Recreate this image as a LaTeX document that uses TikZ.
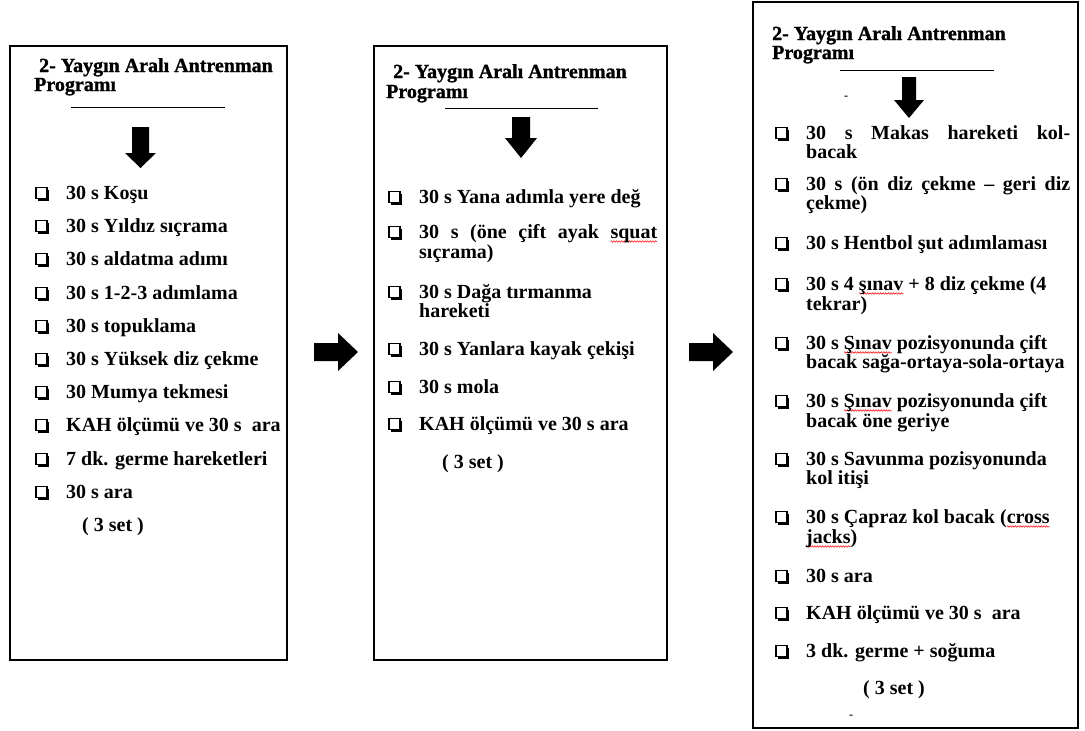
\documentclass[tikz,border=0pt]{standalone}
\usepackage{fontspec}
\setmainfont{Liberation Serif}
\newfontfamily\titlefont{Liberation Serif}[BoldFeatures={FakeBold=1.2}]
\usetikzlibrary{decorations.pathmorphing}
\newsavebox\wbox
\newcommand\redwave[1]{\sbox\wbox{#1}\rlap{\raisebox{-3.5pt}{\tikz[overlay]\draw[red,line width=0.5pt,decorate,decoration={snake,amplitude=0.8pt,segment length=2.6pt}] (0pt,0pt) -- (\wd\wbox,0pt);}}\usebox\wbox}
\newcommand\chk[2]{%
  \draw[line width=1.1pt] ({#1},{#2-11.5}) rectangle ({#1+11},{#2-0.5});
  \draw[line width=1.7pt, line join=miter] ({#1+2},{#2+0.8}) -- ({#1+12.2},{#2+0.8}) -- ({#1+12.2},{#2-9.5});}
\begin{document}
\begin{tikzpicture}[x=1pt,y=-1pt,
  panel/.style={draw=black, line width=1.6pt, fill=white, inner sep=0pt},
  txt/.style={anchor=base west, inner sep=0pt, font=\bfseries\fontsize{20}{22}\selectfont},
  ttl/.style={anchor=base west, inner sep=0pt, font=\titlefont\bfseries\fontsize{20}{22}\selectfont},
  dashmark/.style={inner sep=0pt, font=\bfseries\fontsize{12}{12}\selectfont},
  rule/.style={line width=0.8pt},
  blockarrow/.style={fill=black, draw=none}]
\useasboundingbox (0,0) rectangle (1085,731);
\fill[white] (0,0) rectangle (1085,731);

% panels
\node[panel, minimum width=277pt, minimum height=614pt] (b1) at (148.5,353) {};
\node[panel, minimum width=293pt, minimum height=614pt] (b2) at (520.5,353) {};
\node[panel, minimum width=325pt, minimum height=726pt] (b3) at (915.5,365) {};

% horizontal block arrows
\fill[blockarrow] (314,343) -- (338,343) -- (338,333) -- (358,352) -- (338,371) -- (338,361) -- (314,361) -- cycle;
\fill[blockarrow] (689,343) -- (713,343) -- (713,333) -- (733,352) -- (713,371) -- (713,361) -- (689,361) -- cycle;

% ---------- panel 1 ----------
\node[ttl] (p1t1) at (39,72) {2- Yaygın Aralı Antrenman};
\node[ttl] (p1t2) at (34,91) {Programı};
\draw[rule] (71,107) -- (225,107);
\fill[blockarrow] (132,127) -- (149,127) -- (149,153) -- (156,153) -- (140.5,168) -- (125,153) -- (132,153) -- cycle;
\foreach \yy in {199,232,265,299,332,365,398,431,465,498} {\chk{36}{\yy}}
\node[txt] (p1i1) at (66,199) {30 s Koşu};
\node[txt] (p1i2) at (66,232) {30 s Yıldız sıçrama};
\node[txt] (p1i3) at (66,265) {30 s aldatma adımı};
\node[txt] (p1i4) at (66,299) {30 s 1-2-3 adımlama};
\node[txt] (p1i5) at (66,332) {30 s topuklama};
\node[txt] (p1i6) at (66,365) {30 s Yüksek diz çekme};
\node[txt] (p1i7) at (66,398) {30 Mumya tekmesi};
\node[txt] (p1i8) at (66,431) {KAH ölçümü ve 30 s~ ara};
\node[txt] (p1i9) at (66,465) {7 dk. germe hareketleri};
\node[txt] (p1i10) at (66,498) {30 s ara};
\node[txt] (p1set) at (82,531) {( 3 set )};

% ---------- panel 2 ----------
\node[ttl] (p2t1) at (393,78) {2- Yaygın Aralı Antrenman};
\node[ttl] (p2t2) at (386,98) {Programı};
\draw[rule] (445,108) -- (598,108);
\fill[blockarrow] (512,117) -- (530,117) -- (530,138) -- (537,138) -- (521,158) -- (505,138) -- (512,138) -- cycle;
\foreach \yy in {203,238,298,355,393,430} {\chk{389}{\yy}}
\node[txt] (p2i1) at (419,203) {30 s Yana adımla yere değ};
\node[txt] (p2i2a) at (419,238) {\hbox to 238pt{30\hfill s\hfill (öne\hfill çift\hfill ayak\hfill \redwave{squat}}};
\node[txt] (p2i2b) at (419,258) {sıçrama)};
\node[txt] (p2i3a) at (419,298) {30 s Dağa tırmanma};
\node[txt] (p2i3b) at (419,317) {hareketi};
\node[txt] (p2i4) at (419,355) {30 s Yanlara kayak çekişi};
\node[txt] (p2i5) at (419,393) {30 s mola};
\node[txt] (p2i6) at (419,430) {KAH ölçümü ve 30 s ara};
\node[txt] (p2set) at (442,468) {( 3 set )};

% ---------- panel 3 ----------
\node[ttl] (p3t1) at (772,40) {2- Yaygın Aralı Antrenman};
\node[ttl] (p3t2) at (772,59) {Programı};
\draw[rule] (840,70) -- (994,70);
\node[dashmark] (p3d1) at (846,98) {-};
\fill[blockarrow] (902,77) -- (916,77) -- (916,100) -- (924,100) -- (909,118) -- (894,100) -- (902,100) -- cycle;
\foreach \yy in {139,190,249,290,349,407,465,523,582,619,657} {\chk{776}{\yy}}
\node[txt] (p3i1a) at (806,139) {\hbox to 264pt{30\hfill s\hfill Makas\hfill hareketi\hfill kol-}};
\node[txt] (p3i1b) at (806,158) {bacak};
\node[txt] (p3i2a) at (806,190) {\hbox to 264pt{30\hfill s\hfill (ön\hfill diz\hfill çekme\hfill –\hfill geri\hfill diz}};
\node[txt] (p3i2b) at (806,209) {çekme)};
\node[txt] (p3i3) at (806,249) {30 s Hentbol şut adımlaması};
\node[txt] (p3i4a) at (806,290) {30 s 4 \redwave{şınav} + 8 diz çekme (4};
\node[txt] (p3i4b) at (806,310) {tekrar)};
\node[txt] (p3i5a) at (806,349) {30 s \redwave{Şınav} pozisyonunda çift};
\node[txt] (p3i5b) at (806,368) {bacak sağa-ortaya-sola-ortaya};
\node[txt] (p3i6a) at (806,407) {30 s \redwave{Şınav} pozisyonunda çift};
\node[txt] (p3i6b) at (806,427) {bacak öne geriye};
\node[txt] (p3i7a) at (806,465) {30 s Savunma pozisyonunda};
\node[txt] (p3i7b) at (806,484) {kol itişi};
\node[txt] (p3i8a) at (806,523) {30 s Çapraz kol bacak (\redwave{cross}};
\node[txt] (p3i8b) at (806,543) {\redwave{jacks})};
\node[txt] (p3i9) at (806,582) {30 s ara};
\node[txt] (p3i10) at (806,619) {KAH ölçümü ve 30 s~ ara};
\node[txt] (p3i11) at (806,657) {3 dk. germe + soğuma};
\node[txt] (p3set) at (863,694) {( 3 set )};
\node[dashmark] (p3d2) at (851,717) {-};
\end{tikzpicture}
\end{document}
